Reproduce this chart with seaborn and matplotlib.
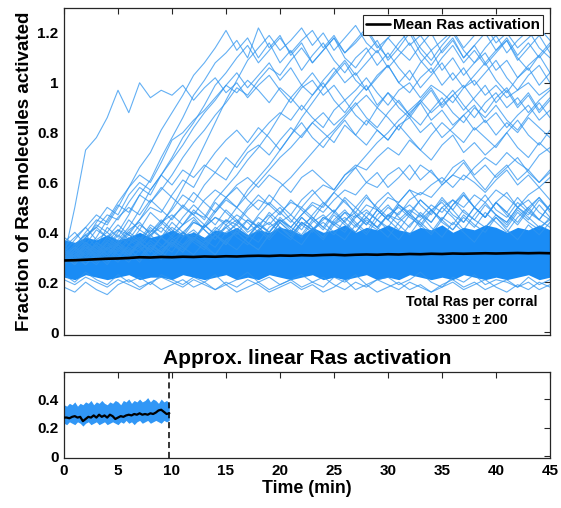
import numpy as np
import pandas as pd
import matplotlib
matplotlib.use("Agg")
import matplotlib.pyplot as plt
import seaborn as sns

# ---------------- data ----------------
time_top = list(range(0, 46))  # minutes, 1-min grid

# rising traces (fraction x100)
R1 = [30, 50, 73, 78, 86, 97, 88, 100, 94, 97, 95, 99, 93, 98, 102, 96, 100, 94, 99, 103,
      97, 92, 98, 101, 95, 99, 93, 97, 102, 96, 91, 97, 100, 94, 99, 96, 92, 98, 101, 95,
      99, 94, 97, 100, 95, 98]
R2 = [31, 28, 33, 38, 45, 52, 58, 66, 72, 81, 88, 95, 103, 108, 114, 121, 113, 118, 110, 116,
      108, 113, 105, 111, 116, 109, 104, 110, 114, 107, 112, 106, 101, 108, 113, 105, 110, 103, 108, 112,
      105, 109, 102, 107, 111, 104]
R3 = [29, 32, 27, 31, 34, 40, 47, 55, 61, 70, 78, 86, 95, 101, 108, 112, 117, 110, 122, 114,
      119, 111, 116, 108, 113, 118, 110, 106, 112, 117, 109, 114, 120, 112, 107, 113, 118, 110, 115, 108,
      113, 117, 109, 114, 119, 112]
R4 = [30, 34, 40, 45, 43, 50, 58, 63, 60, 68, 77, 80, 85, 89, 94, 99, 96, 101, 97, 92,
      98, 94, 89, 95, 100, 93, 88, 94, 99, 91, 96, 90, 86, 92, 97, 90, 95, 99, 93, 88,
      94, 98, 91, 96, 89, 94]
R5 = [28, 31, 35, 30, 33, 37, 42, 49, 57, 63, 70, 78, 84, 91, 99, 104, 110, 115, 108, 113,
      118, 112, 117, 121, 114, 119, 112, 116, 121, 114, 118, 113, 109, 115, 120, 112, 117, 110, 115, 120,
      113, 118, 111, 116, 110, 115]
R6 = [32, 29, 34, 31, 36, 33, 38, 35, 40, 44, 49, 55, 52, 59, 64, 61, 68, 74, 79, 84,
      88, 85, 91, 86, 82, 89, 93, 87, 83, 90, 86, 81, 88, 92, 85, 89, 83, 87, 91, 84,
      88, 82, 87, 91, 85, 89]
R7 = [30, 33, 37, 44, 50, 47, 55, 60, 57, 63, 59, 65, 62, 67, 64, 70, 66, 72, 75, 71,
      77, 82, 78, 84, 80, 76, 83, 79, 85, 81, 77, 83, 86, 80, 84, 78, 82, 87, 81, 85,
      79, 84, 80, 86, 82, 78]
R8 = [31, 27, 32, 29, 34, 30, 35, 32, 37, 34, 39, 43, 48, 46, 53, 58, 63, 69, 74, 80,
      87, 94, 99, 104, 98, 103, 108, 101, 97, 103, 107, 100, 105, 98, 103, 108, 101, 106, 99, 104,
      109, 102, 97, 103, 107, 100]
R9 = [29, 33, 30, 35, 31, 28, 33, 36, 32, 38, 35, 40, 44, 42, 48, 53, 50, 57, 62, 67,
      73, 79, 86, 92, 98, 104, 109, 103, 108, 113, 106, 111, 116, 109, 104, 110, 115, 108, 113, 107,
      112, 117, 110, 105, 111, 116]
R10 = [33, 30, 27, 32, 36, 31, 34, 29, 35, 32, 37, 34, 39, 36, 41, 45, 43, 49, 53, 51,
       58, 62, 67, 72, 77, 81, 86, 91, 95, 90, 96, 92, 87, 93, 98, 91, 95, 89, 94, 99,
       92, 97, 90, 95, 88, 93]
R11 = [28, 31, 34, 30, 36, 41, 39, 45, 50, 48, 55, 61, 58, 66, 72, 77, 81, 76, 82, 78,
       73, 79, 84, 78, 74, 80, 85, 79, 75, 81, 77, 83, 78, 73, 79, 84, 80, 76, 82, 78,
       74, 80, 85, 79, 75, 81]
R12 = [30, 34, 31, 28, 33, 36, 32, 35, 30, 34, 38, 35, 40, 37, 42, 39, 44, 41, 46, 43,
       48, 52, 50, 55, 59, 57, 63, 67, 65, 70, 74, 71, 77, 73, 69, 75, 79, 72, 76, 71,
       75, 80, 74, 70, 76, 72]
R13 = [27, 31, 29, 33, 30, 35, 32, 28, 34, 31, 36, 33, 38, 35, 39, 36, 41, 38, 43, 40,
       45, 42, 47, 51, 48, 53, 57, 55, 60, 58, 63, 66, 61, 67, 64, 60, 66, 69, 63, 67,
       62, 66, 70, 64, 60, 65]
R14 = [32, 29, 34, 31, 27, 33, 30, 36, 33, 29, 35, 32, 37, 34, 39, 36, 33, 38, 41, 37,
       42, 39, 44, 41, 46, 43, 48, 46, 51, 49, 54, 52, 57, 55, 59, 62, 58, 63, 60, 56,
       61, 65, 59, 63, 58, 62]
R15 = [30, 27, 33, 29, 34, 31, 28, 33, 36, 32, 29, 35, 38, 34, 31, 37, 40, 36, 33, 39,
       42, 38, 35, 41, 44, 40, 37, 43, 46, 42, 47, 45, 49, 46, 51, 48, 53, 50, 55, 52,
       57, 54, 50, 55, 58, 53]
R16 = [29, 33, 38, 42, 47, 45, 52, 58, 55, 63, 69, 75, 82, 88, 93, 99, 104, 98, 103, 108,
       101, 106, 99, 95, 101, 106, 100, 104, 97, 102, 107, 100, 96, 102, 106, 99, 104, 98, 103, 108,
       101, 96, 102, 106, 99, 104]
R17 = [31, 28, 33, 30, 35, 32, 37, 34, 39, 43, 50, 58, 66, 75, 84, 93, 101, 109, 114, 119,
       113, 117, 122, 115, 120, 113, 118, 123, 116, 112, 118, 122, 115, 119, 113, 117, 121, 114, 119, 123,
       116, 120, 114, 118, 122, 117]
R18 = [33, 30, 35, 32, 28, 34, 31, 36, 33, 38, 35, 40, 37, 42, 46, 44, 50, 55, 60, 65,
       70, 74, 79, 84, 88, 83, 87, 92, 86, 82, 88, 93, 87, 83, 89, 94, 88, 84, 90, 86,
       91, 85, 81, 87, 92, 86]
R19 = [28, 32, 29, 34, 31, 36, 33, 30, 35, 32, 37, 34, 31, 36, 39, 35, 41, 38, 43, 40,
       45, 42, 47, 52, 50, 56, 61, 66, 71, 76, 80, 85, 89, 93, 88, 92, 97, 91, 86, 92,
       96, 90, 94, 88, 93, 97]
R20 = [31, 34, 30, 27, 32, 35, 31, 34, 29, 33, 36, 32, 38, 35, 31, 37, 40, 36, 33, 39,
       42, 38, 44, 41, 37, 43, 46, 42, 48, 45, 50, 47, 53, 56, 54, 59, 63, 61, 66, 70,
       67, 72, 68, 65, 71, 74]
R21 = [30, 27, 32, 35, 31, 36, 40, 45, 52, 57, 63, 70, 76, 81, 87, 92, 98, 95, 101, 106,
       103, 109, 114, 108, 113, 118, 112, 117, 122, 115, 110, 116, 121, 114, 109, 115, 120, 113, 108, 114,
       119, 112, 117, 121, 114, 110]
R22 = [29, 32, 36, 33, 38, 35, 40, 37, 43, 40, 46, 50, 47, 53, 57, 54, 59, 62, 58, 63,
       60, 56, 62, 65, 61, 57, 63, 66, 60, 64, 58, 62, 67, 61, 65, 59, 63, 68, 62, 57,
       63, 67, 61, 65, 60, 64]

# fringe traces just above the dense band
F1 = [31, 35, 39, 34, 42, 38, 45, 41, 48, 44, 40, 46, 51, 47, 43, 49, 45, 41, 47, 52,
      48, 44, 50, 46, 42, 48, 53, 47, 43, 49, 45, 51, 47, 42, 48, 54, 49, 44, 50, 46,
      52, 47, 43, 49, 54, 48]
F2 = [29, 33, 30, 36, 33, 39, 35, 41, 38, 44, 47, 43, 49, 45, 52, 48, 44, 50, 55, 51,
      47, 53, 49, 45, 51, 56, 52, 48, 54, 50, 46, 52, 57, 51, 47, 53, 49, 55, 50, 46,
      52, 56, 50, 47, 53, 49]
F3 = [34, 30, 36, 32, 38, 35, 31, 37, 41, 38, 34, 40, 37, 43, 39, 35, 41, 45, 42, 38,
      44, 40, 46, 42, 38, 45, 49, 44, 40, 47, 51, 46, 42, 48, 44, 50, 46, 41, 47, 52,
      47, 43, 49, 45, 51, 46]
F4 = [28, 32, 36, 33, 30, 35, 39, 36, 32, 38, 42, 39, 45, 41, 37, 43, 47, 44, 40, 46,
      50, 45, 41, 47, 52, 48, 44, 50, 55, 49, 45, 51, 48, 53, 49, 45, 51, 56, 50, 46,
      52, 48, 54, 49, 45, 51]
F5 = [32, 37, 42, 47, 44, 51, 48, 55, 52, 58, 54, 50, 56, 52, 48, 54, 58, 53, 49, 55,
      51, 47, 53, 57, 52, 48, 54, 50, 46, 52, 56, 51, 47, 53, 49, 45, 51, 55, 50, 46,
      52, 48, 44, 50, 54, 49]
F6 = [30, 34, 38, 43, 40, 46, 50, 47, 53, 49, 45, 51, 47, 43, 49, 54, 50, 46, 42, 48,
      44, 40, 46, 42, 38, 44, 48, 43, 39, 45, 41, 37, 43, 47, 42, 38, 44, 40, 36, 42,
      46, 41, 37, 43, 39, 44]
F7 = [33, 29, 35, 31, 37, 34, 30, 36, 39, 35, 32, 38, 41, 37, 34, 40, 43, 39, 36, 42,
      45, 41, 38, 44, 47, 43, 40, 46, 49, 45, 42, 48, 51, 47, 44, 50, 53, 48, 45, 51,
      47, 44, 50, 53, 48, 45]
F8 = [30, 34, 31, 36, 33, 29, 35, 38, 34, 31, 37, 40, 36, 33, 39, 42, 38, 35, 41, 44,
      40, 37, 43, 46, 42, 39, 45, 48, 44, 41, 47, 50, 46, 43, 49, 52, 47, 44, 50, 55,
      49, 46, 52, 48, 45, 51]
B1 = [36, 40, 35, 41, 38, 43, 39, 36, 42, 38, 44, 40, 37, 43, 39, 45, 41, 38, 44, 40,
      46, 42, 39, 45, 41, 47, 43, 40, 46, 42, 38, 44, 48, 43, 39, 45, 41, 47, 43, 40,
      46, 42, 48, 44, 41, 46]
B2 = [34, 38, 42, 37, 40, 36, 41, 44, 39, 42, 38, 43, 46, 41, 37, 42, 45, 40, 43, 47,
      42, 38, 44, 41, 45, 49, 44, 40, 45, 42, 47, 43, 39, 45, 49, 44, 41, 46, 42, 48,
      44, 40, 46, 50, 45, 42]
B3 = [38, 35, 39, 42, 38, 41, 37, 43, 40, 45, 41, 38, 44, 42, 46, 43, 39, 45, 42, 38,
      44, 47, 43, 40, 46, 44, 41, 47, 43, 49, 45, 41, 47, 44, 40, 46, 43, 49, 45, 42,
      47, 44, 50, 46, 42, 45]
B4 = [23, 20, 24, 21, 19, 23, 20, 22, 19, 23, 21, 19, 22, 20, 23, 19, 21, 24, 20, 22,
      19, 21, 23, 20, 18, 22, 20, 23, 19, 21, 22, 19, 21, 24, 20, 18, 22, 20, 23, 19,
      21, 20, 18, 22, 19, 21]
# low outliers
L1 = [18, 16, 20, 17, 15, 19, 21, 18, 20, 17, 19, 21, 18, 20, 17, 19, 16, 18, 20, 17,
      19, 21, 18, 20, 22, 19, 17, 20, 18, 21, 19, 17, 20, 18, 16, 19, 21, 18, 20, 17,
      19, 21, 18, 20, 17, 19]
L2 = [21, 19, 22, 20, 18, 21, 19, 17, 20, 22, 20, 18, 21, 19, 17, 20, 18, 21, 19, 16,
      18, 20, 17, 19, 16, 18, 21, 17, 19, 16, 18, 20, 17, 19, 16, 18, 20, 17, 19, 21,
      18, 16, 19, 17, 20, 18]

# dense core of the trace ensemble (envelope, x100)
core_upper = [37, 36, 38, 37, 39, 37, 38, 40, 38, 39, 41, 39, 40, 38, 41, 40, 42, 39, 41, 40,
              42, 41, 39, 42, 40, 41, 43, 40, 42, 41, 43, 41, 40, 42, 41, 43, 40, 42, 41, 43,
              42, 40, 42, 41, 43, 41]
core_lower = [22, 21, 23, 22, 21, 22, 23, 21, 22, 22, 21, 23, 22, 21, 22, 23, 21, 22, 21, 23,
              22, 21, 22, 23, 21, 22, 21, 22, 23, 21, 22, 21, 23, 22, 21, 22, 21, 23, 22, 21,
              22, 21, 22, 23, 21, 22]

mean_top = [0.287, 0.288, 0.290, 0.292, 0.294, 0.295, 0.297, 0.300, 0.299, 0.301,
            0.300, 0.302, 0.301, 0.303, 0.302, 0.304, 0.303, 0.305, 0.306, 0.305,
            0.307, 0.306, 0.308, 0.307, 0.309, 0.310, 0.308, 0.310, 0.311, 0.310,
            0.312, 0.311, 0.313, 0.312, 0.314, 0.313, 0.315, 0.314, 0.315, 0.316,
            0.315, 0.316, 0.317, 0.316, 0.317, 0.316]

# bottom panel (0 - 9.75 min, 0.25-min grid)
time_bot = [i * 0.25 for i in range(40)]
mean_bot = [0.27, 0.27, 0.265, 0.275, 0.28, 0.27, 0.275, 0.245, 0.26, 0.275,
            0.27, 0.285, 0.27, 0.29, 0.275, 0.285, 0.27, 0.29, 0.28, 0.26,
            0.27, 0.28, 0.275, 0.285, 0.29, 0.285, 0.295, 0.29, 0.30, 0.29,
            0.295, 0.29, 0.30, 0.295, 0.305, 0.32, 0.325, 0.31, 0.295, 0.30]
bot_upper = [0.36, 0.35, 0.37, 0.36, 0.38, 0.35, 0.37, 0.36, 0.38, 0.37,
             0.39, 0.36, 0.38, 0.37, 0.39, 0.37, 0.36, 0.38, 0.37, 0.39,
             0.38, 0.36, 0.39, 0.38, 0.40, 0.37, 0.39, 0.38, 0.40, 0.38,
             0.39, 0.41, 0.38, 0.40, 0.39, 0.37, 0.40, 0.38, 0.39, 0.37]
bot_lower = [0.23, 0.22, 0.24, 0.23, 0.22, 0.24, 0.23, 0.21, 0.23, 0.24,
             0.22, 0.23, 0.24, 0.22, 0.23, 0.24, 0.22, 0.23, 0.24, 0.23,
             0.22, 0.24, 0.23, 0.25, 0.23, 0.24, 0.22, 0.24, 0.25, 0.23,
             0.24, 0.25, 0.23, 0.24, 0.25, 0.24, 0.23, 0.25, 0.24, 0.25]
cutoff_time = 9.75

x_ticks = [0, 5, 10, 15, 20, 25, 30, 35, 40, 45]
top_yticks = [0, 0.2, 0.4, 0.6, 0.8, 1.0, 1.2]
top_yticklabels = ["0", "0.2", "0.4", "0.6", "0.8", "1", "1.2"]
bot_yticks = [0, 0.2, 0.4]
bot_yticklabels = ["0", "0.2", "0.4"]

# ---------------- build long-form table ----------------
traces = {"R1": R1, "R2": R2, "R3": R3, "R4": R4, "R5": R5, "R6": R6, "R7": R7, "R8": R8,
          "R9": R9, "R10": R10, "R11": R11, "R12": R12, "R13": R13, "R14": R14, "R15": R15,
          "R16": R16, "R17": R17, "R18": R18, "R19": R19, "R20": R20, "R21": R21, "R22": R22,
          "F1": F1, "F2": F2, "F3": F3, "F4": F4, "F5": F5, "F6": F6, "F7": F7, "F8": F8,
          "B1": B1, "B2": B2, "B3": B3, "B4": B4, "L1": L1, "L2": L2}
rows = []
for name, vals in traces.items():
    for t, v in zip(time_top, vals):
        rows.append((name, t, v / 100.0))
df = pd.DataFrame(rows, columns=["trace", "t", "v"])
df_mean = pd.DataFrame({"t": time_top, "v": mean_top})
df_mb = pd.DataFrame({"t": time_bot, "v": mean_bot})

# ---------------- style ----------------
sns.set_theme(style="white")
plt.rcParams["font.family"] = ["Liberation Sans", "DejaVu Sans"]
plt.rcParams["font.weight"] = "bold"
plt.rcParams["axes.labelweight"] = "bold"
plt.rcParams["axes.titleweight"] = "bold"
plt.rcParams["text.color"] = "black"
plt.rcParams["axes.labelcolor"] = "black"

blue = "#1a8cf5"
line_blue = "#2f95f0"
edge = "#262626"

fig = plt.figure(figsize=(5.61, 5.08), dpi=100)
ax1 = fig.add_axes([64 / 561, (508 - 335) / 508, 486 / 561, 327 / 508])
ax2 = fig.add_axes([64 / 561, (508 - 458) / 508, 486 / 561, 86 / 508])

# top panel
ax1.fill_between(time_top, np.array(core_lower) / 100.0, np.array(core_upper) / 100.0,
                 color=blue, lw=0, zorder=1)
sns.lineplot(data=df, x="t", y="v", units="trace", estimator=None, color=line_blue,
             lw=0.8, alpha=0.75, ax=ax1, legend=False, zorder=2)
sns.lineplot(data=df_mean, x="t", y="v", color="black", lw=1.9, ax=ax1,
             label="Mean Ras activation", zorder=5)

ax1.set_xlim(0, 45)
ax1.set_ylim(-0.012, 1.3)
ax1.set_xticks(x_ticks)
ax1.set_xticklabels([])
ax1.set_yticks(top_yticks)
ax1.set_yticklabels(top_yticklabels)
ax1.set_xlabel("")
ax1.set_ylabel("Fraction of Ras molecules activated", fontsize=13.5, labelpad=3)
leg = ax1.legend(loc="upper right", fontsize=11, frameon=True, fancybox=False,
                 handlelength=1.6, handletextpad=0.2, borderpad=0.2,
                 borderaxespad=0.45)
leg.get_frame().set_edgecolor(edge)
leg.get_frame().set_linewidth(0.8)
leg.get_frame().set_alpha(1)
ax1.text(37.8, 0.084, "Total Ras per corral\n3300 \u00b1 200", ha="center", va="center",
         fontsize=10.2, fontweight="bold", linespacing=1.35, zorder=6)

# bottom panel
ax2.fill_between(time_bot, bot_lower, bot_upper, color=blue, lw=0, alpha=0.9, zorder=1)
sns.lineplot(data=df_mb, x="t", y="v", color="black", lw=1.6, ax=ax2, zorder=5)
ax2.axvline(cutoff_time, color="black", ls=(0, (4, 2.5)), lw=1.1, zorder=6)
ax2.set_xlim(0, 45)
ax2.set_ylim(-0.014, 0.59)
ax2.set_xticks(x_ticks)
ax2.set_xticklabels([str(x) for x in x_ticks])
ax2.set_yticks(bot_yticks)
ax2.set_yticklabels(bot_yticklabels)
ax2.set_ylabel("")
ax2.set_xlabel("Time (min)", fontsize=12.8, labelpad=2)
ax2.set_title("Approx. linear Ras activation", fontsize=15, pad=6)

for ax in (ax1, ax2):
    ax.tick_params(direction="in", top=True, right=True, length=4, width=0.8,
                   colors=edge, labelsize=11, labelcolor="black", pad=4)
    for lab in ax.get_xticklabels() + ax.get_yticklabels():
        lab.set_fontweight("bold")
    for s in ax.spines.values():
        s.set_visible(True)
        s.set_color(edge)
        s.set_linewidth(0.9)

fig.savefig("out.png", dpi=100)
